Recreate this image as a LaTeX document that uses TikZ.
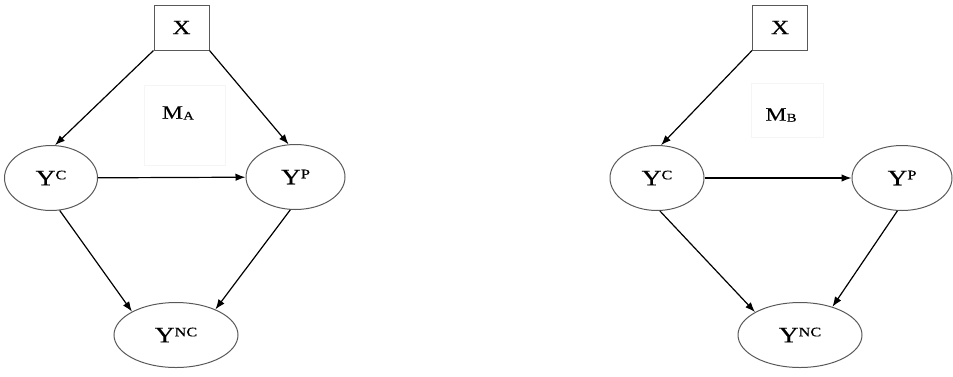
\documentclass[tikz,border=0pt]{standalone}
\usepackage{fontspec}
\setmainfont[FakeStretch=1.25,FakeBold=0.3]{Liberation Serif}
\usetikzlibrary{shapes.geometric,arrows.meta}
\newcommand{\yvar}[1]{Y\raisebox{6pt}{\fontsize{13}{13}\selectfont #1}}
\newcommand{\mlab}[1]{M\raisebox{-1pt}{\fontsize{12}{12}\selectfont #1}}
\begin{document}
\begin{tikzpicture}[x=1pt,y=-1pt,
  varbox/.style={draw=black!65, line width=1pt, minimum width=55, minimum height=45, inner sep=0, font=\fontsize{20}{20}\selectfont},
  var/.style={ellipse, draw=black!65, line width=1pt, inner sep=0, minimum height=65, font=\fontsize{22}{22}\selectfont},
  model/.style={draw=black!4, inner sep=0},
  arr/.style={-{Latex[length=10pt,width=7.5pt]}, line width=1.2pt}]
  \useasboundingbox (0,0) rectangle (953,376);
  % model A
  \node[varbox] (XA) at (181.5,27.5) {X};
  \node[model, minimum width=81, minimum height=80] (MA) at (184.5,125) {};
  \node[font=\fontsize{19}{19}\selectfont] (MAl) at (178,113) {\mlab{A}};
  \node[var, minimum width=93] (YCA) at (51,178) {\yvar{C}};
  \node[var, minimum width=99] (YPA) at (295.5,177) {\yvar{P}};
  \node[var, minimum width=124] (YNA) at (176,335) {\yvar{NC}};
  \draw[arr] (XA.south west) -- (YCA.83);
  \draw[arr] (XA.south east) -- (YPA.102);
  \draw[arr] (YCA) -- (YPA);
  \draw[arr] (YCA.-75) -- (YNA.152);
  \draw[arr] (YPA.-99) -- (YNA.33);
  % model B
  \node[varbox] (XB) at (780,27.5) {X};
  \node[model, minimum width=72, minimum height=54] (MB) at (787,110) {};
  \node[font=\fontsize{19}{19}\selectfont] (MBl) at (781,115) {\mlab{B}};
  \node[var, minimum width=94] (YCB) at (657,178) {\yvar{C}};
  \node[var, minimum width=100] (YPB) at (902,178) {\yvar{P}};
  \node[var, minimum width=124] (YNB) at (800,335) {\yvar{NC}};
  \draw[arr] (XB.south west) -- (YCB.83);
  \draw[arr] (YCB) -- (YPB);
  \draw[arr] (YCB.-85) -- (YNB.153);
  \draw[arr] (YPB.-98) -- (YNB.41);
\end{tikzpicture}
\end{document}
